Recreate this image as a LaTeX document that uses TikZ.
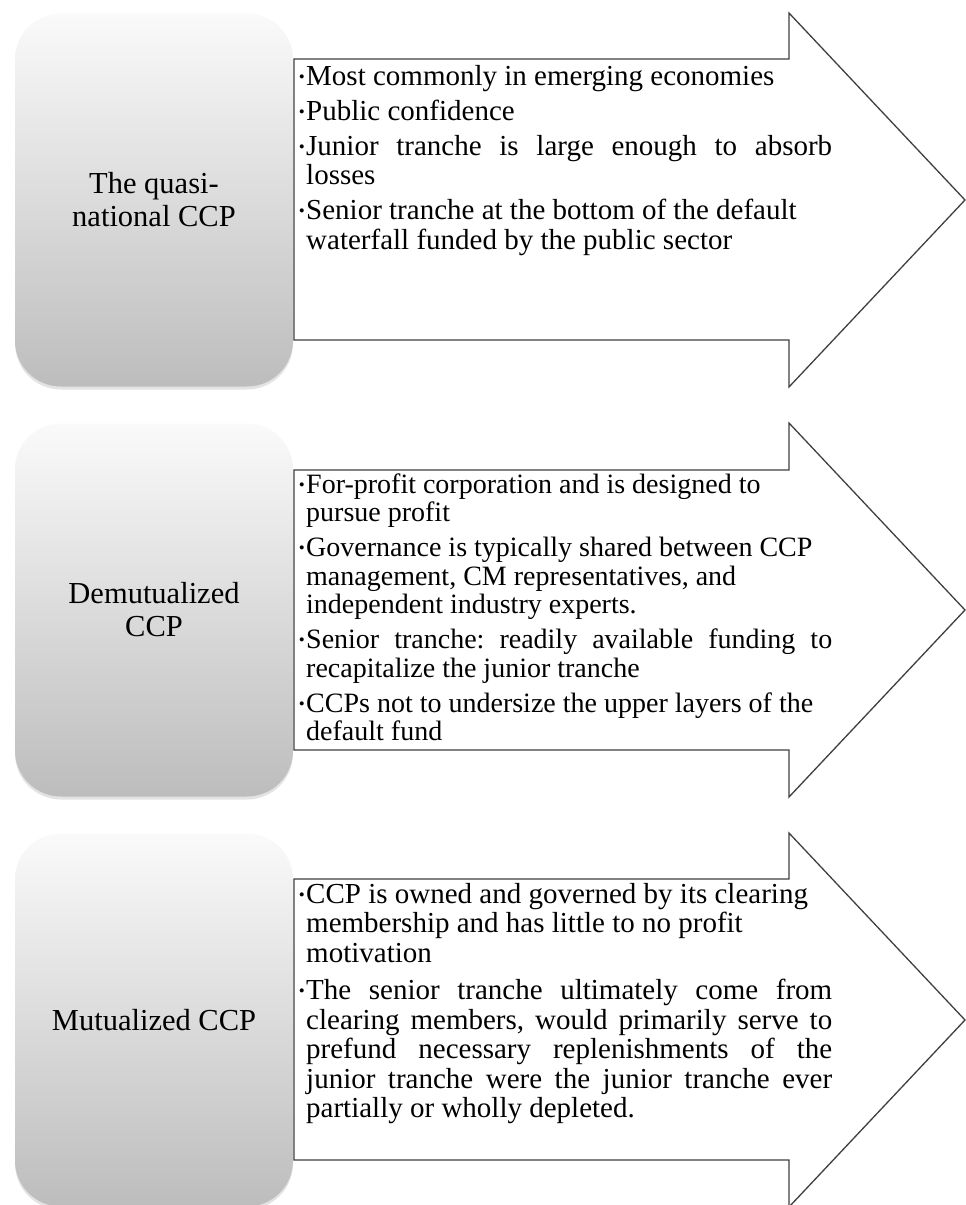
\documentclass[tikz,border=0pt]{standalone}
\usepackage{fontspec}
\setmainfont{Liberation Serif}
\usetikzlibrary{shadows}
\newcommand\bmark{\llap{\raisebox{3.2pt}{\fontsize{17}{17}\selectfont\textbullet}\hspace{1.5pt}}}
\newcommand\bitem{\par\noindent\bmark}
\newcommand\firstitem{\noindent\strut\bmark}
\begin{document}
\begin{tikzpicture}[x=1pt,y=-1pt,
  cbox/.style={draw=none, rounded corners=46pt, minimum width=278pt, minimum height=373pt,
    top color=white!98!black, bottom color=black!26, align=center, inner sep=0pt,
    font=\fontsize{30.5}{33}\selectfont,
    drop shadow={opacity=0.22, shadow xshift=0pt, shadow yshift=-3pt}},
  arrowsty/.style={draw=black!75, line width=1.3pt, fill=white, line join=miter},
  txt/.style={anchor=north west, inner sep=0pt, align=left}
]
\useasboundingbox[fill=white] (0,0) rectangle (966,1205);
\begin{scope}
\clip (0,0) rectangle (966,1205);
% Block 1 (T=13)
\node[cbox] (b1) at (154,200) {The quasi-\\national CCP};
\draw[arrowsty] (294,59) -- (789,59) -- (789,13) -- (965,200) -- (789,387) -- (789,340) -- (294,340) -- cycle;
\node[txt] (t1) at (306,64.4) {\parbox[t]{526pt}{\frenchspacing\fontsize{29}{29.5}\selectfont\setlength{\parskip}{5.5pt}%
\firstitem Most commonly in emerging economies
\bitem Public confidence
\bitem Junior tranche is large enough to absorb\linebreak losses
\bitem Senior tranche at the bottom of the default\\ waterfall funded by the public sector}};
% Block 2 (T=423)
\node[cbox] (b2) at (154,610) {Demutualized\\CCP};
\draw[arrowsty] (294,470) -- (789,470) -- (789,423) -- (965,610) -- (789,797) -- (789,750) -- (294,750) -- cycle;
\node[txt] (t2) at (306,473.2) {\parbox[t]{526pt}{\frenchspacing\fontsize{28}{28.5}\selectfont\setlength{\parskip}{6.5pt}%
\firstitem For-profit corporation and is designed to\\ pursue profit
\bitem Governance is typically shared between CCP\\ management, CM representatives, and\\ independent industry experts.
\bitem Senior tranche: readily available funding to\linebreak recapitalize the junior tranche
\bitem CCPs not to undersize the upper layers of the\\ default fund}};
% Block 3 (T=833)
\node[cbox] (b3) at (154,1020) {Mutualized CCP};
\draw[arrowsty] (294,879) -- (789,879) -- (789,833) -- (965,1020) -- (789,1207) -- (789,1160) -- (294,1160) -- cycle;
\node[txt] (t3) at (306,882.4) {\parbox[t]{526pt}{\frenchspacing\fontsize{29}{29.5}\selectfont\setlength{\parskip}{8pt}%
\firstitem CCP is owned and governed by its clearing\\ membership and has little to no profit\\ motivation
\bitem The senior tranche ultimately come from\linebreak clearing members, would primarily serve to\linebreak prefund necessary replenishments of the\linebreak junior tranche were the junior tranche ever\linebreak partially or wholly depleted.}};
\end{scope}
\end{tikzpicture}
\end{document}
